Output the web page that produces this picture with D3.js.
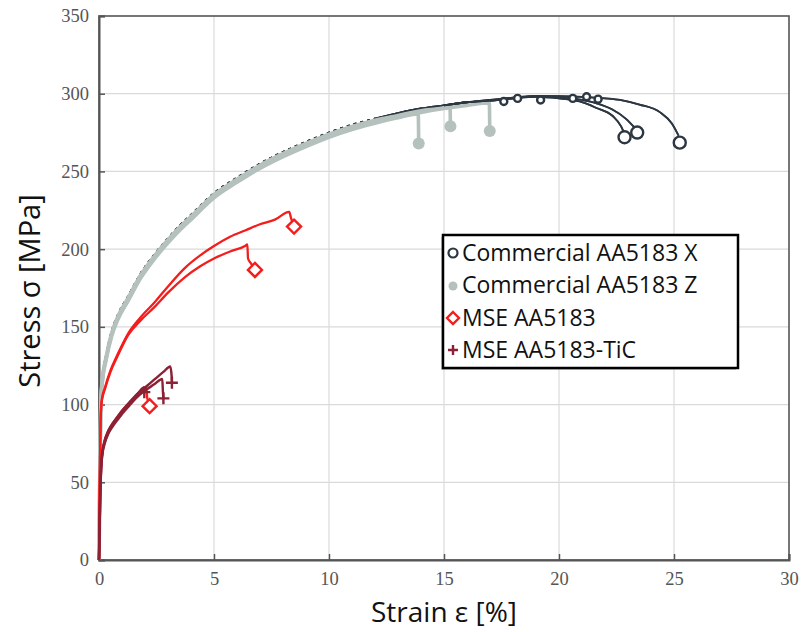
<!DOCTYPE html>
<html>
<head>
<meta charset="utf-8">
<script src="https://cdn.jsdelivr.net/npm/d3@7"></script>
<style>
  html, body { margin: 0; padding: 0; background: #fff; }
  svg { display: block; }
</style>
</head>
<body>
<svg id="chart" width="808" height="632"></svg>
<script>
// ---------- DATA ----------
const xTicks = [0, 5, 10, 15, 20, 25, 30];
const yTicks = [0, 50, 100, 150, 200, 250, 300, 350];
const seriesNames = ["Commercial AA5183 X", "Commercial AA5183 Z", "MSE AA5183", "MSE AA5183-TiC"];

// Commercial AA5183 Z (three specimens) [strain %, stress MPa]
const commZ1 = [[0,0],[0.04,60],[0.08,100],[0.15,115],[0.3,128],[0.55,144],[0.8,154],[1.28,167],[1.8,181],[2.43,194],[3,204],[3.5,212],[4,219],[5,233],[6,243],[7,252],[7.65,257],[9,266],[10,272],[11,277],[12,281],[13,284.5],[13.88,287],[13.9,268]];
const commZ2 = [[0,0],[0.04,62],[0.08,102],[0.15,117],[0.3,130],[0.55,146],[0.8,156],[1.28,169],[1.8,183],[2.43,196],[3,206],[3.5,214],[4,221],[5,235],[6,245],[7,254],[7.65,259],[9,268],[10,274],[11,279],[12,283],[13,286],[14,289],[15,291],[15.26,292],[15.28,279]];
const commZ3 = [[0,0],[0.04,61],[0.08,101],[0.15,116],[0.3,129],[0.55,145],[0.8,155],[1.28,168],[1.8,182],[2.43,195],[3,205],[3.5,213],[4,220],[5,234],[6,244],[7,253],[7.65,258],[9,267],[10,273],[11,278],[12,282],[13,285],[14,288],[15,290.5],[16,292.5],[16.97,294],[16.99,276]];

// Commercial AA5183 X (three specimens)
const commX1 = [[0,0],[0.04,63],[0.08,103],[0.15,118],[0.3,131],[0.55,147],[0.8,157],[1.28,170],[1.8,184],[2.43,197],[3,207],[3.5,215],[4,222],[5,236],[6,246],[7,255],[7.65,260],[9,269],[10,275],[11,280],[12,284],[13,287.5],[14,290.5],[15,292.5],[16,294.5],[17,295.5],[18,297],[19,298],[20,297],[20.9,295],[21.6,291],[22.35,285.5],[22.7,279],[22.85,274]];
const commX2 = [[0,0],[0.04,63],[0.08,103],[0.15,118],[0.3,131],[0.55,147],[0.8,157],[1.28,170],[1.8,184],[2.43,197],[3,207],[3.5,215],[4,222],[5,236],[6,246],[7,255],[7.65,260],[9,269],[10,275],[11,280],[12,284],[13,287.5],[14,290.5],[15,292.5],[16,294.5],[17,295.5],[18,297],[19,298.5],[20,298],[21,296],[21.6,294],[22.3,290],[22.9,284],[23.3,278]];
const commX3 = [[0,0],[0.04,63],[0.08,103],[0.15,118],[0.3,131],[0.55,147],[0.8,157],[1.28,170],[1.8,184],[2.43,197],[3,207],[3.5,215],[4,222],[5,236],[6,246],[7,255],[7.65,260],[9,269],[10,275],[11,280],[12,284],[13,287.5],[14,290.5],[15,292.5],[16,294.5],[17,296],[18,297.5],[19,298.5],[20,298.5],[21,298],[22,297],[22.65,296],[23.5,293],[24.4,288],[24.9,281],[25.2,273]];

// MSE AA5183 (red)
const mseA = [[0,0],[0.03,50],[0.07,90],[0.12,103],[0.26,111],[0.5,122],[0.8,132],[1.28,146],[1.8,156],[2.43,166],[3,176],[3.74,188],[4.4,196],[5,202],[5.7,208],[6.35,212],[7,216],[7.65,219],[8.27,224],[8.35,220],[8.48,214.5]];
const mseB = [[0,0],[0.03,50],[0.07,90],[0.12,102],[0.26,110],[0.5,121],[0.8,131],[1.28,145],[1.8,154],[2.43,163],[3,172],[3.74,182],[4.4,189],[5,194],[5.7,198.5],[6.35,202],[6.45,203],[6.48,194],[6.6,191],[6.78,186.6]];
const mseC = [[0,0],[0.04,45],[0.1,63],[0.2,74],[0.4,83],[0.7,90],[1,96],[1.5,104],[2.05,111],[2.1,104],[2.2,99]];

// MSE AA5183-TiC (maroon)
const ticA = [[0,0],[0.05,40],[0.1,62],[0.15,70],[0.25,77],[0.4,83],[0.6,88],[0.8,92],[1,96],[1.3,101],[1.6,106],[2,111],[2.4,116],[2.8,121],[3.1,124.5],[3.16,118],[3.17,114]];
const ticB = [[0,0],[0.05,38],[0.1,60],[0.15,68],[0.25,75],[0.4,81],[0.6,86],[0.8,90],[1,94],[1.3,99],[1.6,104],[2,109],[2.4,113],[2.75,116.5],[2.78,108],[2.8,104]];
const ticC = [[0,0],[0.05,39],[0.1,61],[0.15,69],[0.25,76],[0.4,82],[0.6,87],[0.8,91],[1,95],[1.3,100],[1.6,105],[1.95,111],[1.97,108]];

// end-of-test markers
const xEndMarkers = [[22.85,272],[23.4,275],[25.25,268.5]];
const xMidMarkers = [[17.6,295],[18.2,297],[19.2,296],[20.6,297],[21.2,298],[21.7,296.5]];
const zEndMarkers = [[13.9,268],[15.28,279],[16.99,276]];
const mseEndMarkers = [[8.48,214.5],[6.78,186.6],[2.2,99]];
const ticEndMarkers = [[3.17,114],[2.8,104],[1.97,108]];

// ---------- STYLE ----------
const colX = "#2c3742", colZ = "#b5c1bd", colRed = "#f51c1c", colTic = "#8c2034";
const W = 808, H = 632;
const margin = {left: 99, top: 16, right: 19, bottom: 72};
const pw = W - margin.left - margin.right, ph = H - margin.top - margin.bottom;

const svg = d3.select("#chart");
const g = svg.append("g").attr("transform", `translate(${margin.left},${margin.top})`);

const x = d3.scaleLinear().domain([0, 30]).range([0, pw]);
const y = d3.scaleLinear().domain([0, 350]).range([ph, 0]);

// grid
g.append("g").selectAll("line").data(xTicks.slice(1, -1)).join("line")
  .attr("x1", d => x(d)).attr("x2", d => x(d)).attr("y1", 0).attr("y2", ph)
  .attr("stroke", "#dadada").attr("stroke-width", 1.2);
g.append("g").selectAll("line").data(yTicks.slice(1, -1)).join("line")
  .attr("y1", d => y(d)).attr("y2", d => y(d)).attr("x1", 0).attr("x2", pw)
  .attr("stroke", "#dadada").attr("stroke-width", 1.2);

// frame
g.append("rect").attr("x", 0).attr("y", 0).attr("width", pw).attr("height", ph)
  .attr("fill", "none").attr("stroke", "#555").attr("stroke-width", 1.6);

// axes
const xAxis = d3.axisBottom(x).tickValues(xTicks).tickSize(-6).tickPadding(12).tickFormat(d3.format("d"));
const yAxis = d3.axisLeft(y).tickValues(yTicks).tickSize(-6).tickPadding(10).tickFormat(d3.format("d"));
const gx = g.append("g").attr("transform", `translate(0,${ph})`).call(xAxis);
const gy = g.append("g").call(yAxis);
[gx, gy].forEach(a => {
  a.select(".domain").attr("stroke", "#555").attr("stroke-width", 2);
  a.selectAll(".tick line").attr("stroke", "#555").attr("stroke-width", 1.5);
  a.selectAll(".tick text").attr("font-family", "'Liberation Serif', serif")
    .attr("font-size", 18.5).attr("fill", "#555");
});

// lines
const line = d3.line().x(d => x(d[0])).y(d => y(d[1])).curve(d3.curveMonotoneX);
function drawLine(data, color, w, dash) {
  g.append("path").datum(data).attr("d", line).attr("fill", "none")
    .attr("stroke", color).attr("stroke-width", w).attr("stroke-linejoin", "round")
    .attr("stroke-dasharray", dash || null);
}
// dark X specimens: dotted where they run along the grey band, solid near the peak
[commX1, commX2, commX3].forEach(d => {
  drawLine(d.filter(p => p[0] <= 12), colX, 2, "3,4");
  drawLine(d.filter(p => p[0] >= 12), colX, 1.8);
});
[commZ1, commZ2, commZ3].forEach(d => drawLine(d, colZ, 3.6));
[commX1, commX2, commX3].forEach(d => drawLine(d.filter(p => p[0] >= 15), colX, 1.8));
[mseA, mseB, mseC].forEach(d => drawLine(d, colRed, 2.3));
[ticA, ticB, ticC].forEach(d => drawLine(d, colTic, 2.4));

// markers
function circleOpen(sel, r) {
  sel.attr("r", r).attr("fill", "#fff").attr("stroke", colX).attr("stroke-width", 2.4);
}
g.append("g").selectAll("circle").data(xMidMarkers).join("circle")
  .attr("cx", d => x(d[0])).attr("cy", d => y(d[1])).call(circleOpen, 3.5);
g.append("g").selectAll("circle").data(xEndMarkers).join("circle")
  .attr("cx", d => x(d[0])).attr("cy", d => y(d[1])).call(circleOpen, 6);
g.append("g").selectAll("circle").data(zEndMarkers).join("circle")
  .attr("cx", d => x(d[0])).attr("cy", d => y(d[1])).attr("r", 6).attr("fill", colZ);
const diamond = s => `M0,${-s}L${s},0L0,${s}L${-s},0Z`;
g.append("g").selectAll("path").data(mseEndMarkers).join("path")
  .attr("transform", d => `translate(${x(d[0])},${y(d[1])})`)
  .attr("d", diamond(7)).attr("fill", "#fff").attr("stroke", colRed).attr("stroke-width", 2.4);
const plus = s => `M${-s},0H${s}M0,${-s}V${s}`;
g.append("g").selectAll("path").data(ticEndMarkers).join("path")
  .attr("transform", d => `translate(${x(d[0])},${y(d[1])})`)
  .attr("d", plus(6)).attr("fill", "none").attr("stroke", colTic).attr("stroke-width", 2.4);

// axis titles
svg.append("text").attr("x", margin.left + pw / 2).attr("y", 622)
  .attr("text-anchor", "middle").attr("font-family", "'Open Sans', sans-serif")
  .attr("font-size", 28).attr("fill", "#111").text("Strain ε [%]");
svg.append("text").attr("transform", `translate(40,${margin.top + ph / 2 + 3}) rotate(-90)`)
  .attr("text-anchor", "middle").attr("font-family", "'Open Sans', sans-serif")
  .attr("font-size", 29).attr("fill", "#111").text("Stress σ [MPa]");

// legend
const lg = svg.append("g").attr("transform", "translate(443,235)");
lg.append("rect").attr("x", -2).attr("y", 2).attr("width", 295).attr("height", 133)
  .attr("fill", "#999").attr("opacity", 0.5);
lg.append("rect").attr("x", 0).attr("y", 0).attr("width", 295).attr("height", 133)
  .attr("fill", "#fff").attr("stroke", "#000").attr("stroke-width", 2.5);
const ly = [18, 50, 83, 115];
const items = lg.selectAll("g.item").data(seriesNames).join("g")
  .attr("transform", (d, i) => `translate(0,${ly[i]})`);
items.append("text").attr("x", 19).attr("y", 0).attr("dy", "0.35em")
  .attr("font-family", "'Open Sans', sans-serif").attr("font-size", 23).attr("fill", "#111")
  .text(d => d);
items.each(function(d, i) {
  const s = d3.select(this);
  if (i === 0) s.append("circle").attr("cx", 10).attr("cy", 0).attr("r", 4.5)
    .attr("fill", "#fff").attr("stroke", colX).attr("stroke-width", 2.2);
  if (i === 1) s.append("circle").attr("cx", 10).attr("cy", 1).attr("r", 4.5).attr("fill", colZ);
  if (i === 2) s.append("path").attr("transform", "translate(10,0)").attr("d", diamond(6))
    .attr("fill", "#fff").attr("stroke", colRed).attr("stroke-width", 2.4);
  if (i === 3) s.append("path").attr("transform", "translate(10,0)").attr("d", plus(5))
    .attr("stroke", colTic).attr("stroke-width", 2.4);
});
</script>
</body>
</html>
